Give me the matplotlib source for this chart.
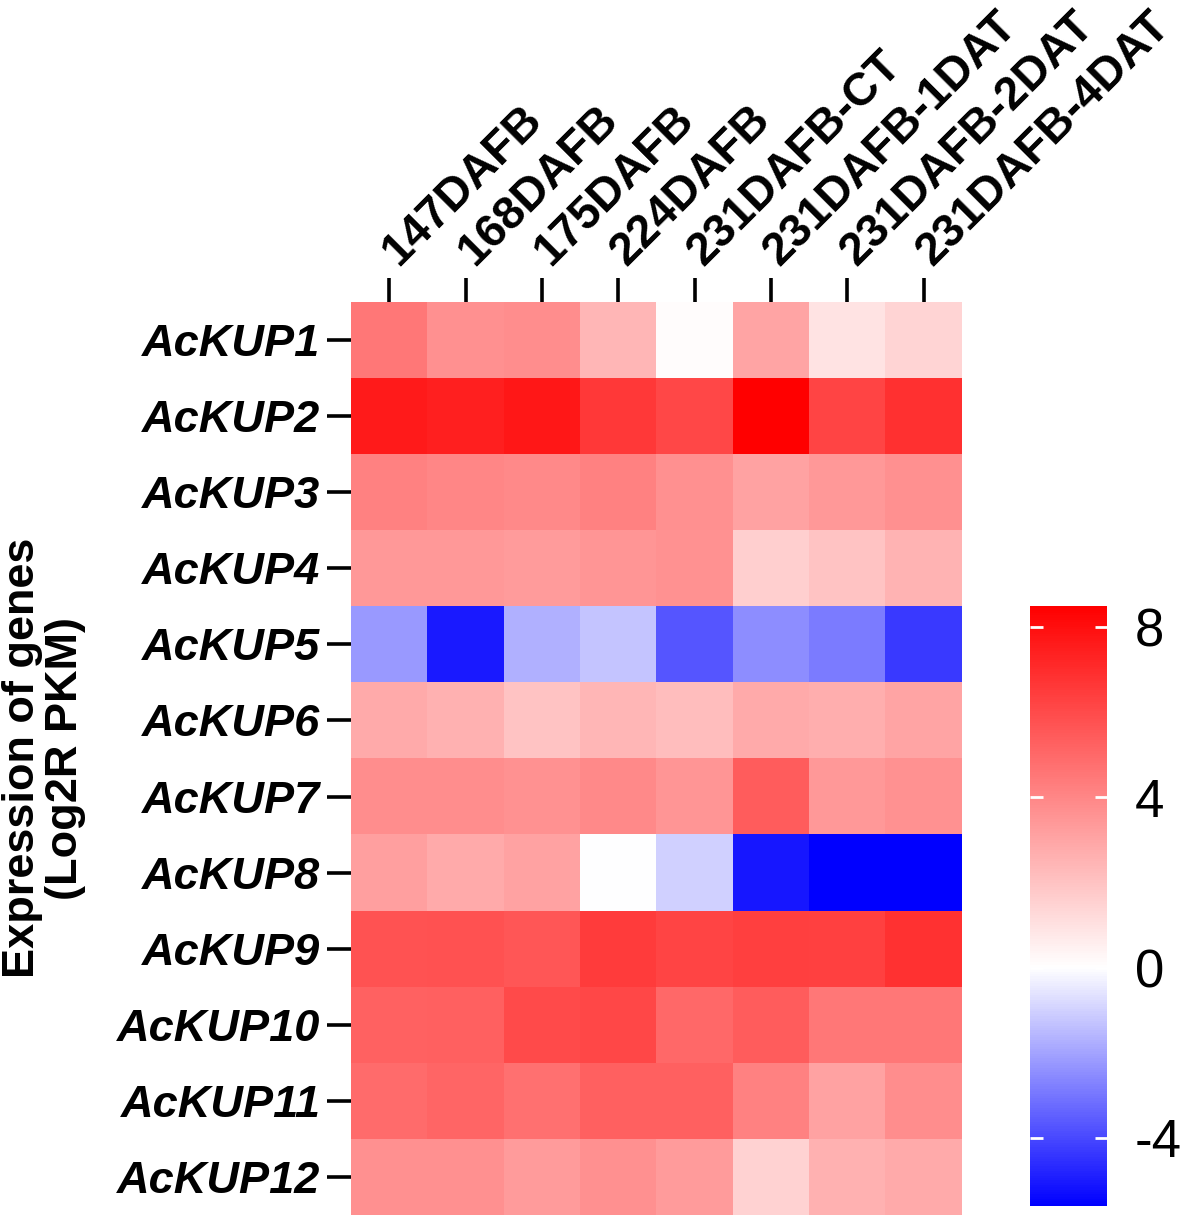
import numpy as np
import matplotlib
matplotlib.use("Agg")
import matplotlib.pyplot as plt
from matplotlib.colors import LinearSegmentedColormap, Normalize

plt.rcParams['font.family'] = ['Liberation Sans', 'DejaVu Sans']

samples = ["147DAFB", "168DAFB", "175DAFB", "224DAFB", "231DAFB-CT",
           "231DAFB-1DAT", "231DAFB-2DAT", "231DAFB-4DAT"]
genes = ["AcKUP1", "AcKUP2", "AcKUP3", "AcKUP4", "AcKUP5", "AcKUP6",
         "AcKUP7", "AcKUP8", "AcKUP9", "AcKUP10", "AcKUP11", "AcKUP12"]

AcKUP1 = [4.5, 3.7, 3.8, 2.4, 0.1, 3.0, 0.9, 1.4]
AcKUP2 = [7.6, 7.4, 7.7, 6.6, 6.1, 8.5, 6.2, 6.9]
AcKUP3 = [4.2, 4.0, 3.9, 4.2, 3.7, 3.1, 3.4, 3.7]
AcKUP4 = [3.4, 3.4, 3.3, 3.5, 3.6, 1.6, 2.0, 2.5]
AcKUP5 = [-2.2, -5.0, -1.7, -1.3, -3.7, -2.5, -2.9, -4.3]
AcKUP6 = [2.8, 2.6, 2.0, 2.4, 2.2, 2.8, 2.7, 3.0]
AcKUP7 = [3.8, 3.8, 3.6, 3.9, 3.5, 5.4, 3.4, 3.6]
AcKUP8 = [3.2, 2.8, 3.1, 0.0, -1.0, -5.1, -5.6, -5.6]
AcKUP9 = [5.7, 5.8, 5.6, 6.5, 6.2, 6.4, 6.3, 6.8]
AcKUP10 = [5.2, 5.3, 6.0, 6.1, 5.0, 5.4, 4.5, 4.5]
AcKUP11 = [4.9, 5.1, 4.7, 5.3, 5.3, 4.2, 3.1, 3.8]
AcKUP12 = [3.7, 3.7, 3.3, 3.7, 3.3, 1.5, 2.6, 2.8]

cbar_ticks = [8, 4, 0, -4]

data = np.array([AcKUP1, AcKUP2, AcKUP3, AcKUP4, AcKUP5, AcKUP6,
                 AcKUP7, AcKUP8, AcKUP9, AcKUP10, AcKUP11, AcKUP12])

W, H = 1180, 1215
fig = plt.figure(figsize=(W / 100, H / 100), dpi=100)

ax = fig.add_axes([351 / W, 0.0, 611 / W, (H - 302) / H])
vmin, vmax = data.min(), data.max()
frac = (0 - vmin) / (vmax - vmin)
cmap = LinearSegmentedColormap.from_list(
    "bwr_c", [(0.0, (0, 0, 1)), (frac, (1, 1, 1)), (1.0, (1, 0, 0))])
norm = Normalize(vmin=vmin, vmax=vmax)
im = ax.imshow(data, cmap=cmap, norm=norm, aspect='auto', interpolation='nearest')

for s in ax.spines.values():
    s.set_visible(False)

ax.set_yticks(range(len(genes)))
ax.set_yticklabels(genes, fontsize=32.5, fontweight='bold', fontstyle='italic')
ax.xaxis.tick_top()
ax.set_xticks(range(len(samples)))
ax.set_xticklabels(samples, fontsize=33.3, fontweight='bold', rotation=45,
                   ha='left', va='center', rotation_mode='anchor')
ax.tick_params(axis='y', length=17, width=2.6, pad=5)
ax.tick_params(axis='x', length=17, width=2.6, pad=14)

fig.text(44 / W, 1 - 758 / H, "Expression of genes\n(Log2R PKM)", rotation=90,
         ha='center', va='center', fontsize=32.5, fontweight='bold',
         multialignment='center', linespacing=1.05)

cax = fig.add_axes([1030 / W, (H - 1206) / H, 77 / W, 600 / H])
cb = fig.colorbar(im, cax=cax)
cb.outline.set_visible(False)
cb.set_ticks(cbar_ticks)
cb.set_ticklabels([str(t) for t in cbar_ticks])
cax.tick_params(axis='y', which='major', left=True, right=True, labelleft=False,
                labelright=True, direction='in', color='white', length=9, width=2,
                labelsize=38, pad=20)
cax.tick_params(axis='y', which='minor', left=False, right=False)

fig.savefig("out.png", dpi=100)
